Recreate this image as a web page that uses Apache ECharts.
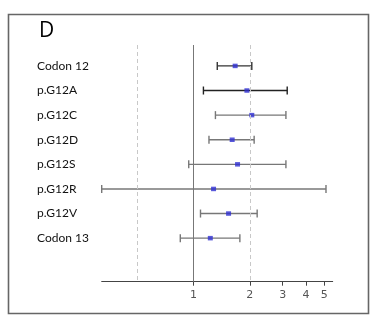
<!DOCTYPE html>
<html>
<head>
<meta charset="utf-8">
<script src="https://cdn.jsdelivr.net/npm/echarts@6/dist/echarts.min.js"></script>
<style>
  html, body { margin: 0; padding: 0; background: #fff; }
  #chart { width: 376px; height: 331px; }
</style>
</head>
<body>
<div id="chart"></div>
<script>
// Forest plot: odds ratios with 95% confidence intervals, log scale
const categories = ['Codon 12', 'p.G12A', 'p.G12C', 'p.G12D', 'p.G12S', 'p.G12R', 'p.G12V', 'Codon 13'];
const estimates  = [1.67, 1.93, 2.05, 1.61, 1.72, 1.28, 1.54, 1.23];
const lowerCI    = [1.34, 1.13, 1.31, 1.21, 0.943, 0.323, 1.09, 0.85];
const upperCI    = [2.05, 3.17, 3.12, 2.11, 3.12, 5.11, 2.19, 1.77];
const barColors  = ['#333333', '#222222', '#777777', '#777777', '#777777', '#777777', '#777777', '#777777'];
const xTicks     = [1, 2, 3, 4, 5];
const dashedRefs = [0.5, 2];

const rowIdx = categories.map((_, i) => i);

const chart = echarts.init(document.getElementById('chart'), null, { renderer: 'canvas' });

const intervalData = categories.map((_, i) => [lowerCI[i], upperCI[i], i]);
const pointData = categories.map((_, i) => [estimates[i], i]);

chart.setOption({
  animation: false,
  backgroundColor: '#ffffff',
  title: {
    text: 'D',
    left: 34,
    top: 16,
    textStyle: { fontFamily: 'Open Sans', fontSize: 21, fontWeight: 'normal', color: '#000' }
  },
  graphic: [{
    type: 'rect',
    shape: { x: 8.5, y: 14.5, width: 360, height: 299 },
    style: { fill: 'none', stroke: '#666', lineWidth: 1.6 },
    z: 100
  }],
  grid: { left: 101.7, right: 43.3, top: 45, bottom: 49.3 },
  xAxis: {
    type: 'log',
    logBase: 10,
    min: 0.323,
    max: 5.55,
    axisLine: { show: true, onZero: false, lineStyle: { color: '#444', width: 1 } },
    axisTick: { show: true, customValues: xTicks, length: 4, lineStyle: { color: '#444' } },
    axisLabel: {
      customValues: xTicks,
      formatter: v => String(Math.round(v)),
      color: '#555',
      fontFamily: 'DejaVu Sans',
      fontSize: 11,
      margin: 8
    },
    splitLine: { show: false },
    minorTick: { show: false }
  },
  yAxis: {
    type: 'value',
    inverse: true,
    min: -0.85,
    max: 8.77,
    axisLine: { show: false },
    axisTick: { show: false },
    splitLine: { show: false },
    axisLabel: {
      customValues: rowIdx,
      formatter: v => categories[Math.round(v)] || '',
      align: 'left',
      margin: 64.7,
      color: '#111',
      fontFamily: 'Lato',
      fontSize: 12
    }
  },
  series: [
    {
      // reference lines at OR = 0.5, 1 and 2
      type: 'line',
      data: [],
      silent: true,
      markLine: {
        symbol: 'none',
        label: { show: false },
        data: [
          ...dashedRefs.map(v => ({ xAxis: v, lineStyle: { color: '#c8c8c8', type: [4, 3], width: 1 } })),
          { xAxis: 1, lineStyle: { color: '#777', type: 'solid', width: 1 } }
        ]
      }
    },
    {
      type: 'custom',
      data: intervalData,
      encode: { x: [0, 1], y: 2 },
      renderItem: function (params, api) {
        const lo = api.coord([api.value(0), api.value(2)]);
        const hi = api.coord([api.value(1), api.value(2)]);
        const cap = 4;
        const color = barColors[params.dataIndex];
        const style = { stroke: color, lineWidth: 1.4 };
        return {
          type: 'group',
          children: [
            { type: 'line', shape: { x1: lo[0], y1: lo[1], x2: hi[0], y2: hi[1] }, style },
            { type: 'line', shape: { x1: lo[0], y1: lo[1] - cap, x2: lo[0], y2: lo[1] + cap }, style },
            { type: 'line', shape: { x1: hi[0], y1: hi[1] - cap, x2: hi[0], y2: hi[1] + cap }, style }
          ]
        };
      },
      z: 3
    },
    {
      type: 'scatter',
      data: pointData,
      symbol: 'rect',
      symbolSize: [5, 4.5],
      itemStyle: { color: '#2f2fd2' },
      z: 4
    }
  ]
});
</script>
</body>
</html>
